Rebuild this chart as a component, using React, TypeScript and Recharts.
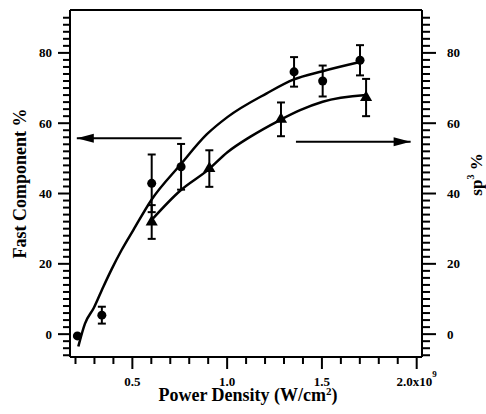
import React from 'react';
import { ComposedChart, Line, Scatter, XAxis, YAxis, ErrorBar } from 'recharts';

// Fast component % (circles, left axis)
const fastX = [0.21, 0.339, 0.602, 0.757, 1.353, 1.504, 1.701];
const fastY = [-0.5, 5.4, 42.9, 47.6, 74.6, 72.0, 77.9];
const fastErr = [0, 2.4, 8.2, 6.5, 4.2, 4.4, 4.3];

// sp3 % (triangles, right axis)
const sp3X = [0.602, 0.906, 1.284, 1.733];
const sp3Y = [31.9, 47.1, 61.1, 67.3];
const sp3Err = [4.8, 5.2, 4.8, 5.3];

// fitted curves
const fastFitX = [0.215, 0.25, 0.297, 0.347, 0.391, 0.444, 0.505, 0.602, 0.752, 0.892, 1.003, 1.209, 1.349, 1.504, 1.701];
const fastFitY = [-3.5, 3.0, 7.5, 13.5, 18.5, 24.0, 29.6, 38.3, 48.1, 56.8, 61.8, 68.5, 72.4, 74.8, 77.4];
const sp3FitX = [0.6, 0.752, 0.901, 1.003, 1.121, 1.279, 1.385, 1.504, 1.733];
const sp3FitY = [32.4, 40.8, 46.8, 51.8, 56.1, 60.9, 63.7, 66.1, 68.0];

// arrows
const leftArrowX = [0.207, 0.76];
const leftArrowY = [55.7, 55.7];
const rightArrowX = [1.363, 1.968];
const rightArrowY = [54.7, 54.7];

// axes
const xDomain: [number, number] = [0.171, 2.028];
const yDomain: [number, number] = [-6.5, 92.2];
const xTicks = [0.2, 0.3, 0.4, 0.5, 0.6, 0.7, 0.8, 0.9, 1.0, 1.1, 1.2, 1.3, 1.4, 1.5, 1.6, 1.7, 1.8, 1.9, 2.0];
const xMajor = [0.5, 1.0, 1.5, 2.0];
const xMajorLabels = ['0.5', '1.0', '1.5', '2.0x10'];
const yTicks = [-6, -4, -2, 0, 2, 4, 6, 8, 10, 12, 14, 16, 18, 20, 22, 24, 26, 28, 30, 32, 34, 36, 38, 40, 42, 44, 46, 48, 50, 52, 54, 56, 58, 60, 62, 64, 66, 68, 70, 72, 74, 76, 78, 80, 82, 84, 86, 88, 90];
const yMajor = [0, 20, 40, 60, 80];
const yMajorLabels = ['0', '20', '40', '60', '80'];

const fastData = fastX.map((x, i) => ({ x, y: fastY[i], err: fastErr[i] }));
const sp3Data = sp3X.map((x, i) => ({ x, y: sp3Y[i], err: sp3Err[i] }));
const fastFit = fastFitX.map((x, i) => ({ x, y: fastFitY[i] }));
const sp3Fit = sp3FitX.map((x, i) => ({ x, y: sp3FitY[i] }));
const leftArrow = leftArrowX.map((x, i) => ({ x, y: leftArrowY[i] }));
const rightArrow = rightArrowX.map((x, i) => ({ x, y: rightArrowY[i] }));

// tick marks placed on the frame through the chart scales
const bottomTickMarks = xTicks.map((x) => ({ x, y: yDomain[0], major: xMajor.some((m) => Math.abs(m - x) < 1e-6) }));
const leftTickMarks = yTicks.map((y) => ({ x: xDomain[0], y, major: yMajor.includes(y) }));
const rightTickMarks = yTicks.map((y) => ({ x: xDomain[1], y, major: yMajor.includes(y) }));

const FONT = '"Liberation Serif", "Times New Roman", serif';

const majorIndex = (arr: number[], v: number) => arr.findIndex((m) => Math.abs(m - v) < 1e-6);

const XTick = (props: any) => {
  const { x, y, payload } = props;
  const mi = majorIndex(xMajor, payload.value);
  if (mi < 0) return <g />;
  const isLast = mi === xMajor.length - 1;
  return (
    <text x={x} y={y + 17} textAnchor="middle" fontFamily={FONT} fontWeight="bold" fontSize={13} fill="#000">
      <tspan>{xMajorLabels[mi]}</tspan>
      {isLast && (
        <tspan dy={-9} fontSize={9}>9</tspan>
      )}
    </text>
  );
};

const YTickLeft = (props: any) => {
  const { x, y, payload } = props;
  const mi = majorIndex(yMajor, payload.value);
  if (mi < 0) return <g />;
  return (
    <text x={x - 6} y={y + 4.5} textAnchor="end" fontFamily={FONT} fontWeight="bold" fontSize={13} fill="#000">
      {yMajorLabels[mi]}
    </text>
  );
};

const YTickRight = (props: any) => {
  const { x, y, payload } = props;
  const mi = majorIndex(yMajor, payload.value);
  if (mi < 0) return <g />;
  return (
    <text x={x + 11} y={y + 4.5} textAnchor="start" fontFamily={FONT} fontWeight="bold" fontSize={13} fill="#000">
      {yMajorLabels[mi]}
    </text>
  );
};

const BottomMark = (props: any) => {
  const { cx, cy, payload } = props;
  const len = payload && payload.major ? 12 : 7;
  return <rect x={cx - 1} y={cy} width={2} height={len} fill="#000" />;
};
const LeftMark = (props: any) => {
  const { cx, cy, payload } = props;
  const len = payload && payload.major ? 12 : 7;
  return <rect x={cx - len} y={cy - 1} width={len} height={2} fill="#000" />;
};
const RightMark = (props: any) => {
  const { cx, cy, payload } = props;
  const len = payload && payload.major ? 14 : 8;
  return <rect x={cx} y={cy - 1} width={len} height={2} fill="#000" />;
};

const makeHead = (dir: 'left' | 'right', at: number) => (props: any) => {
  const { cx, cy, index } = props;
  if (index !== at) return <g key={`h${dir}${index}`} />;
  const L = 17;
  const W = 4.5;
  const pts =
    dir === 'left'
      ? `${cx},${cy} ${cx + L},${cy - W} ${cx + L},${cy + W}`
      : `${cx},${cy} ${cx - L},${cy - W} ${cx - L},${cy + W}`;
  return <polygon key={`h${dir}${index}`} points={pts} fill="#000" />;
};

const axisLine = { stroke: '#000', strokeWidth: 2 };

export default function App() {
  return (
    <div style={{ position: 'absolute', left: 0, top: 0, background: '#fff' }}>
      <ComposedChart width={486} height={414} margin={{ top: 0, right: 0, bottom: 0, left: 0 }}>
        <XAxis
          xAxisId="bottom"
          dataKey="x"
          type="number"
          orientation="bottom"
          domain={xDomain}
          ticks={xMajor}
          interval={0}
          height={57}
          tickSize={12}
          tickMargin={0}
          tickLine={false}
          tick={<XTick />}
          axisLine={axisLine}
          label={{
            content: (p: any) => {
              const vb = p.viewBox;
              return (
                <text x={vb.x + vb.width / 2 + 2} y={vb.y + 44} textAnchor="middle" fontFamily={FONT} fontWeight="bold" fontSize={18} fill="#000">
                  Power Density (W/cm<tspan dy={-6} fontSize={11}>2</tspan><tspan dy={6}>)</tspan>
                </text>
              );
            },
          }}
        />
        <XAxis
          xAxisId="top"
          type="number"
          orientation="top"
          domain={xDomain}
          height={10}
          tick={false}
          tickLine={false}
          axisLine={axisLine}
        />
        <YAxis
          yAxisId="left"
          type="number"
          orientation="left"
          domain={yDomain}
          ticks={yMajor}
          interval={0}
          width={70}
          tickSize={12}
          tickMargin={0}
          tickLine={false}
          tick={<YTickLeft />}
          axisLine={axisLine}
          label={{
            content: (p: any) => {
              const vb = p.viewBox;
              const cx = 20;
              const cy = vb.y + vb.height / 2;
              return (
                <text x={cx} y={cy} transform={`rotate(-90 ${cx} ${cy})`} textAnchor="middle" dominantBaseline="central" fontFamily={FONT} fontWeight="bold" fontSize={18} fill="#000">
                  Fast Component %
                </text>
              );
            },
          }}
        />
        <YAxis
          yAxisId="right"
          type="number"
          orientation="right"
          domain={yDomain}
          ticks={yMajor}
          interval={0}
          width={64}
          tickSize={14}
          tickMargin={0}
          tickLine={false}
          tick={<YTickRight />}
          axisLine={axisLine}
          label={{
            content: (p: any) => {
              const vb = p.viewBox;
              const cx = 476;
              const cy = vb.y + vb.height / 2 - 9;
              return (
                <text x={cx} y={cy} transform={`rotate(-90 ${cx} ${cy})`} textAnchor="middle" dominantBaseline="central" fontFamily={FONT} fontWeight="bold" fontSize={17} fill="#000">
                  sp<tspan dy={-6} fontSize={10}>3</tspan><tspan dy={6}> %</tspan>
                </text>
              );
            },
          }}
        />

        {/* frame tick marks */}
        <Scatter xAxisId="bottom" yAxisId="left" data={bottomTickMarks} dataKey="y" shape={<BottomMark />} isAnimationActive={false} />
        <Scatter xAxisId="bottom" yAxisId="left" data={leftTickMarks} dataKey="y" shape={<LeftMark />} isAnimationActive={false} />
        <Scatter xAxisId="bottom" yAxisId="right" data={rightTickMarks} dataKey="y" shape={<RightMark />} isAnimationActive={false} />

        <Line xAxisId="bottom" yAxisId="left" data={fastFit} dataKey="y" type="monotone" stroke="#000" strokeWidth={2.5} dot={false} isAnimationActive={false} />
        <Line xAxisId="bottom" yAxisId="right" data={sp3Fit} dataKey="y" type="monotone" stroke="#000" strokeWidth={2.5} dot={false} isAnimationActive={false} />
        <Line xAxisId="bottom" yAxisId="left" data={leftArrow} dataKey="y" type="linear" stroke="#000" strokeWidth={2} dot={makeHead('left', 0)} isAnimationActive={false} />
        <Line xAxisId="bottom" yAxisId="right" data={rightArrow} dataKey="y" type="linear" stroke="#000" strokeWidth={2} dot={makeHead('right', 1)} isAnimationActive={false} />

        <Scatter xAxisId="bottom" yAxisId="left" data={fastData} dataKey="y" shape="circle" fill="#000" isAnimationActive={false}>
          <ErrorBar dataKey="err" direction="y" width={4} stroke="#000" strokeWidth={2} />
        </Scatter>
        <Scatter xAxisId="bottom" yAxisId="right" data={sp3Data} dataKey="y" shape="triangle" fill="#000" isAnimationActive={false}>
          <ErrorBar dataKey="err" direction="y" width={4} stroke="#000" strokeWidth={2} />
        </Scatter>
      </ComposedChart>
    </div>
  );
}
